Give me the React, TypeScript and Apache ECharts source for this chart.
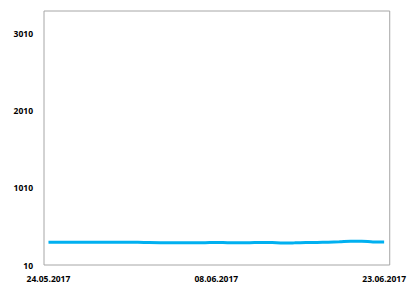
import React, { useEffect, useRef } from "react";
import * as echarts from "echarts";

const dates = [
  "24.05.2017", "25.05.2017", "26.05.2017", "27.05.2017", "28.05.2017", "29.05.2017",
  "30.05.2017", "31.05.2017", "01.06.2017", "02.06.2017", "03.06.2017", "04.06.2017",
  "05.06.2017", "06.06.2017", "07.06.2017", "08.06.2017", "09.06.2017", "10.06.2017",
  "11.06.2017", "12.06.2017", "13.06.2017", "14.06.2017", "15.06.2017", "16.06.2017",
  "17.06.2017", "18.06.2017", "19.06.2017", "20.06.2017", "21.06.2017", "22.06.2017",
  "23.06.2017",
];
const values = [
  304, 306, 306, 306, 306, 306, 306, 306, 305, 300, 298, 298,
  298, 298, 299, 302, 299, 298, 299, 303, 300, 295, 297, 300,
  303, 305, 310, 318, 319, 309, 308,
];
const xLabelIdx = [0, 15, 30];
const yTicks = [10, 1010, 2010, 3010];

export default function App() {
  const ref = useRef<HTMLDivElement>(null);
  useEffect(() => {
    if (!ref.current) return;
    const chart = echarts.init(ref.current, null, { renderer: "svg" });
    const font = { fontFamily: "Open Sans", fontWeight: "bold" as const, fontSize: 8.5, color: "#000" };
    chart.setOption({
      animation: false,
      grid: {
        left: 44, right: 17, top: 11, bottom: 19,
        show: true, borderColor: "#a6a6a6", borderWidth: 1, backgroundColor: "#fff",
      },
      xAxis: {
        type: "value",
        min: -0.4,
        max: 30.5,
        axisLine: { show: false },
        axisTick: { show: false },
        splitLine: { show: false },
        axisLabel: {
          ...font,
          margin: 9,
          customValues: xLabelIdx,
          formatter: (v: number) => dates[Math.round(v)] ?? "",
        },
      },
      yAxis: {
        type: "value",
        min: 10,
        max: 3300,
        axisLine: { show: false },
        axisTick: { show: false },
        splitLine: { show: false },
        axisLabel: {
          ...font,
          margin: 11,
          customValues: yTicks,
          formatter: (v: number) => String(Math.round(v)),
        },
      },
      series: [
        {
          type: "line",
          data: values.map((v, i) => [i, v]),
          showSymbol: false,
          smooth: 0.3,
          lineStyle: { color: "#00B0F0", width: 3 },
        },
      ],
    });
    return () => chart.dispose();
  }, []);
  return (
    <div
      ref={ref}
      style={{ position: "fixed", left: 0, top: 0, width: 409, height: 284, background: "#fff" }}
    />
  );
}
